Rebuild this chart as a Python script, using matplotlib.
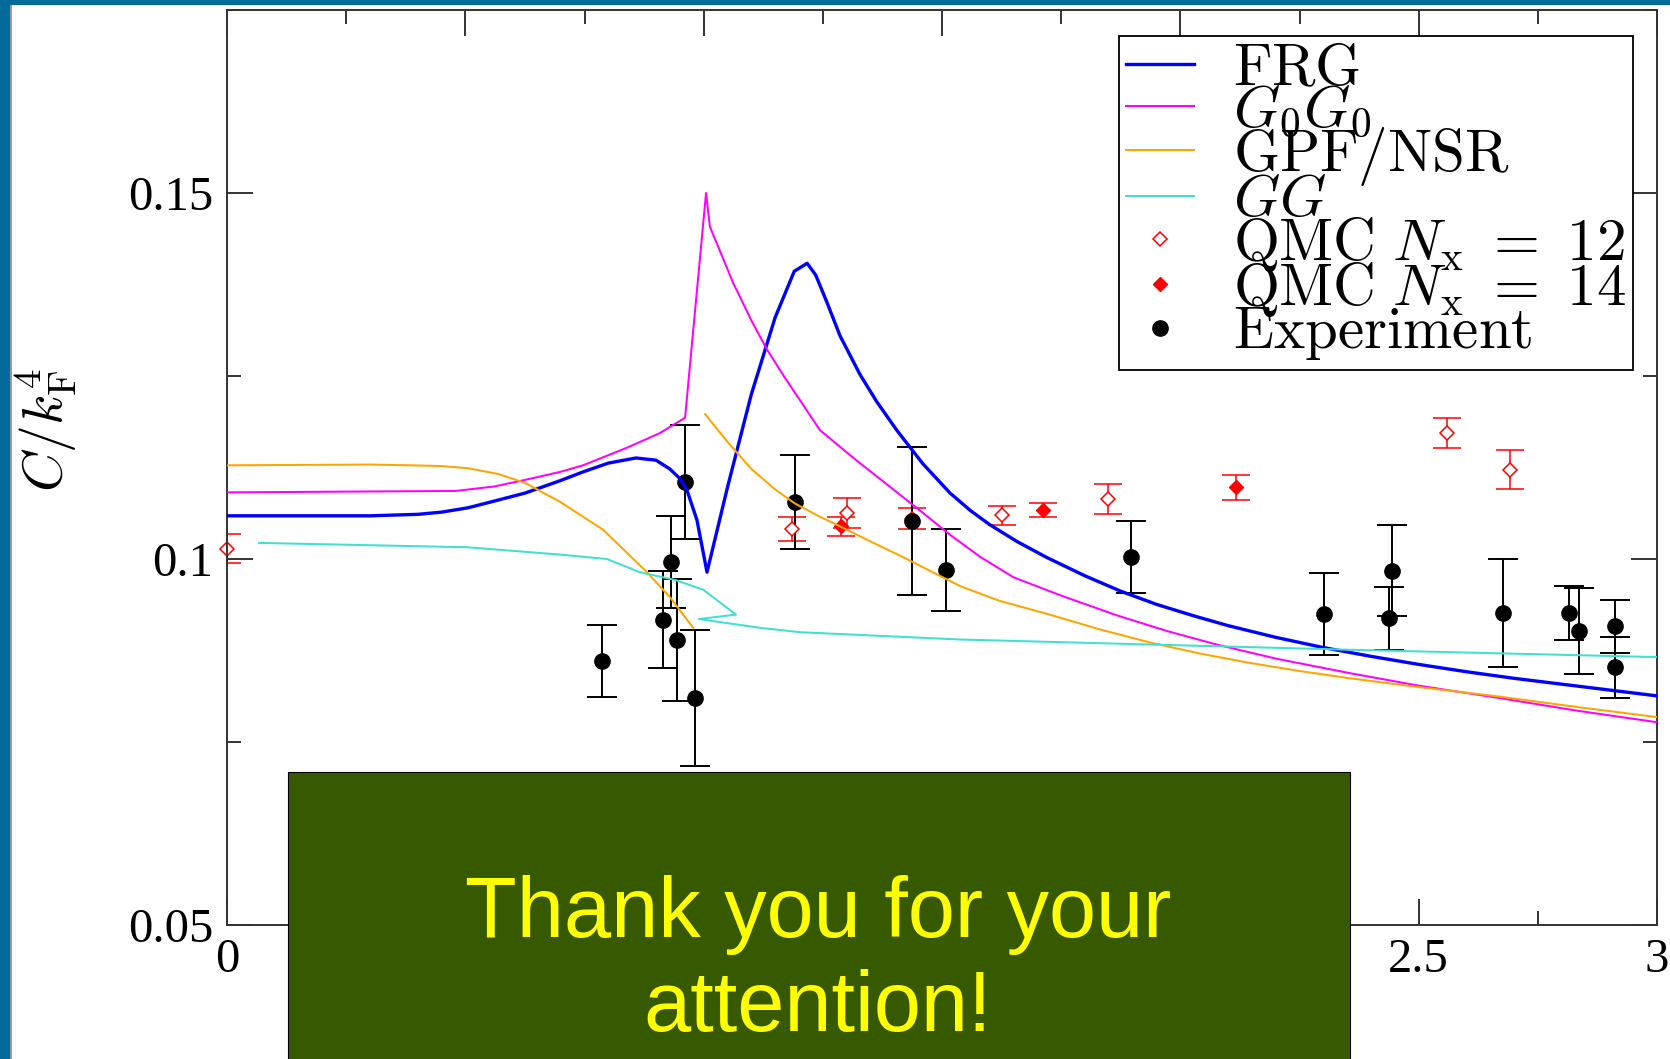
import numpy as np
import matplotlib
matplotlib.use("Agg")
import matplotlib.pyplot as plt
from matplotlib.patches import Rectangle
from matplotlib.ticker import MultipleLocator, FixedLocator, FixedFormatter

plt.rcParams["mathtext.fontset"] = "cm"

# ---------------- data ----------------
# Theory curves: contact C / k_F^4 versus 1/(k_F a)
frg_x = [0.0, 0.30, 0.40, 0.45, 0.506, 0.56, 0.625, 0.699, 0.747, 0.80, 0.858, 0.90, 0.929, 0.95,
         0.965, 0.986, 1.007, 1.05, 1.10, 1.15, 1.19, 1.217, 1.235, 1.259, 1.286, 1.328, 1.363,
         1.405, 1.46, 1.517, 1.56, 1.60, 1.657, 1.72, 1.80, 1.875, 1.95, 2.03, 2.10, 2.20, 2.30,
         2.40, 2.50, 2.60, 2.70, 2.80, 2.90, 3.0]
frg_y = [0.1059, 0.1059, 0.1061, 0.1064, 0.1070, 0.1079, 0.1090, 0.1107, 0.1119, 0.1131, 0.1138, 0.1135, 0.1123, 0.1110,
         0.1094, 0.1053, 0.0982, 0.1098, 0.1225, 0.1330, 0.1393, 0.1404, 0.1388, 0.1350, 0.1305, 0.1252, 0.1215,
         0.1176, 0.1130, 0.1090, 0.1066, 0.1047, 0.1024, 0.1002, 0.0977, 0.0956, 0.0938, 0.0922, 0.0909, 0.0893, 0.0879,
         0.0867, 0.0856, 0.0846, 0.0837, 0.0829, 0.0821, 0.0813]

g0g0_x = [0.0, 0.48, 0.56, 0.625, 0.699, 0.747, 0.839, 0.908, 0.961, 1.005, 1.013, 1.062, 1.10, 1.133,
          1.17, 1.202, 1.244, 1.32, 1.398, 1.46, 1.517, 1.58, 1.65, 1.75, 1.867, 1.97, 2.077, 2.20,
          2.356, 2.50, 2.670, 2.83, 3.0]
g0g0_y = [0.1091, 0.1093, 0.1099, 0.1108, 0.1119, 0.1128, 0.1152, 0.1172, 0.1193, 0.1500, 0.1454, 0.1377, 0.1326, 0.1286,
          0.1248, 0.1217, 0.1176, 0.1135, 0.1095, 0.1063, 0.1033, 0.1003, 0.0975, 0.0950, 0.0923, 0.0902, 0.0883, 0.0864,
          0.0844, 0.0827, 0.0810, 0.0793, 0.0777]

# GPF/NSR has a jump near 1/(k_F a) ~ 1 (NaN splits the two branches)
gpf_x = [0.0, 0.30, 0.384, 0.45, 0.506, 0.57, 0.625, 0.699, 0.789, 0.881, 0.929, 0.978, np.nan,
         1.003, 1.05, 1.10, 1.15, 1.191, 1.24, 1.288, 1.35, 1.42, 1.538, 1.62, 1.726, 1.83, 1.936,
         2.04, 2.146, 2.25, 2.356, 2.50, 2.670, 2.83, 3.0]
gpf_y = [0.1128, 0.1129, 0.1128, 0.1127, 0.1124, 0.1116, 0.1104, 0.1078, 0.1040, 0.0982, 0.0948, 0.0906, np.nan,
         0.1198, 0.1160, 0.1123, 0.1095, 0.1076, 0.1059, 0.1044, 0.1024, 0.1002, 0.0963, 0.0943, 0.0924, 0.0904, 0.0886,
         0.0871, 0.0858, 0.0847, 0.0837, 0.0825, 0.0812, 0.0798, 0.0784]

gg_x = [0.067, 0.506, 0.699, 0.797, 0.866, 0.942, 0.999, 1.068, 0.990, 1.118, 1.202, 1.538, 2.356, 3.0]
gg_y = [0.1022, 0.1016, 0.1006, 0.1000, 0.0982, 0.0971, 0.0958, 0.0924, 0.0918, 0.0906, 0.0900, 0.0890, 0.0876, 0.0866]

# QMC results
qmc12_x = [0.0, 1.185, 1.300, 1.437, 1.626, 1.848, 2.559, 2.691]
qmc12_y = [0.1014, 0.1041, 0.1063, 0.1055, 0.1060, 0.1082, 0.1172, 0.1122]
qmc12_err = [0.0020, 0.0017, 0.0020, 0.0014, 0.0013, 0.0020, 0.0020, 0.0027]

qmc14_x = [1.288, 1.712, 2.117]
qmc14_y = [0.1045, 0.1067, 0.1098]
qmc14_err = [0.0013, 0.0010, 0.0017]

# Experimental data
exp_x = [0.787, 0.915, 0.931, 0.944, 0.961, 0.982, 1.191, 1.437, 1.508, 1.896,
         2.301, 2.438, 2.444, 2.677, 2.815, 2.836, 2.912, 2.912]
exp_y = [0.0861, 0.0917, 0.0996, 0.0889, 0.1105, 0.0810, 0.1078, 0.1052, 0.0985, 0.1003,
         0.0925, 0.0919, 0.0984, 0.0926, 0.0926, 0.0902, 0.0908, 0.0852]
exp_err = [0.0049, 0.0066, 0.0063, 0.0083, 0.0078, 0.0093, 0.0064, 0.0101, 0.0056, 0.0049,
           0.0056, 0.0043, 0.0062, 0.0074, 0.0037, 0.0059, 0.0036, 0.0042]

x_ticks = [0, 0.5, 1, 1.5, 2, 2.5, 3]
x_tick_labels = ["0", "0.5", "1", "1.5", "2", "2.5", "3"]
y_ticks = [0.05, 0.1, 0.15]
y_tick_labels = ["0.05", "0.1", "0.15"]

labels = [r"$\mathrm{FRG}$", r"$G_0G_0$", r"$\mathrm{GPF/NSR}$", r"$GG$",
          r"$\mathrm{QMC}\ N_\mathrm{x}\ =\ 12$", r"$\mathrm{QMC}\ N_\mathrm{x}\ =\ 14$",
          r"$\mathrm{Experiment}$"]

slide_text = "Thank you for your\nattention!"

# ---------------- figure ----------------
W, H = 1670, 1059
fig = plt.figure(figsize=(W / 100, H / 100), dpi=100)
fig.patch.set_facecolor("white")

# slide frame: blue bars on left and top
fig.add_artist(Rectangle((0, 0), 10 / W, 1, transform=fig.transFigure,
                         facecolor="#046a99", edgecolor="none", zorder=0))
fig.add_artist(Rectangle((10 / W, 0), 2 / W, 1, transform=fig.transFigure,
                         facecolor="#9a9a9a", edgecolor="none", zorder=0))
fig.add_artist(Rectangle((0, 1 - 5 / H), 1, 5 / H, transform=fig.transFigure,
                         facecolor="#046a99", edgecolor="none", zorder=0))

ax_l, ax_r, ax_t, ax_b = 227, 1657, 10, 925
ax = fig.add_axes([ax_l / W, 1 - ax_b / H, (ax_r - ax_l) / W, (ax_b - ax_t) / H])

lw_thin = 1.45
ax.plot(frg_x, frg_y, color="#0000ff", lw=2.4, label=labels[0], zorder=4)
ax.plot(g0g0_x, g0g0_y, color="#ff00ff", lw=lw_thin, label=labels[1], zorder=4)
ax.plot(gpf_x, gpf_y, color="#ffa500", lw=lw_thin, label=labels[2], zorder=4)
ax.plot(gg_x, gg_y, color="#40e0d0", lw=lw_thin, label=labels[3], zorder=4)

ax.errorbar(qmc12_x, qmc12_y, yerr=qmc12_err, fmt="none", ecolor="#ff0000",
            elinewidth=1.1, capsize=10, capthick=1.1, zorder=2)
ax.plot(qmc12_x, qmc12_y, ls="none", marker="D", ms=7.5, mfc="white", mec="#ff0000",
        mew=1.1, label=labels[4], zorder=2.5, clip_on=False)

ax.errorbar(qmc14_x, qmc14_y, yerr=qmc14_err, fmt="none", ecolor="#ff0000",
            elinewidth=1.1, capsize=10, capthick=1.1, zorder=2)
ax.plot(qmc14_x, qmc14_y, ls="none", marker="D", ms=7.5, mfc="#ff0000", mec="#ff0000",
        label=labels[5], zorder=2.5)

ax.errorbar(exp_x, exp_y, yerr=exp_err, fmt="none", ecolor="black",
            elinewidth=1.4, capsize=10.8, capthick=1.4, zorder=2)
ax.plot(exp_x, exp_y, ls="none", marker="o", ms=11, mfc="black", mec="black",
        label=labels[6], zorder=3)

ax.set_xlim(0, 3)
ax.set_ylim(0.05, 0.175)

ax.xaxis.set_major_locator(FixedLocator(x_ticks))
ax.xaxis.set_major_formatter(FixedFormatter(x_tick_labels))
ax.xaxis.set_minor_locator(MultipleLocator(0.25))
ax.yaxis.set_major_locator(FixedLocator(y_ticks))
ax.yaxis.set_major_formatter(FixedFormatter(y_tick_labels))
ax.yaxis.set_minor_locator(MultipleLocator(0.025))
for lab in ax.get_xticklabels() + ax.get_yticklabels():
    lab.set_fontfamily("Liberation Serif")
    lab.set_fontsize(35)

ax.tick_params(which="both", direction="in", top=True, right=True, width=1.4, color="#333333")
ax.tick_params(which="major", length=19)
ax.tick_params(which="minor", length=10)
ax.tick_params(axis="y", which="major", pad=10)
ax.tick_params(axis="x", which="major", pad=9)
for sp in ax.spines.values():
    sp.set_linewidth(1.4)
    sp.set_color("#333333")

ax.set_ylabel(r"$C/k_\mathrm{F}^4$", fontsize=40)
ax.yaxis.set_label_coords((80 - ax_l) / (ax_r - ax_l), (ax_b - 430) / (ax_b - ax_t))

leg = ax.legend(loc="upper right",
                bbox_to_anchor=((1633 - ax_l) / (ax_r - ax_l), (ax_b - 36) / (ax_b - ax_t)),
                borderaxespad=0, prop={"family": "cmr10", "size": 42.5},
                labelspacing=-0.23, handlelength=1.15, handletextpad=0.65,
                borderpad=0.12, fancybox=False, framealpha=1, edgecolor="black")
leg.get_frame().set_linewidth(1.3)

# closing box over the lower part of the slide
box_l, box_r, box_t = 288, 1350, 772
fig.add_artist(Rectangle((box_l / W, -0.01), (box_r - box_l) / W, (H - box_t) / H + 0.01,
                         transform=fig.transFigure, facecolor="#375a00",
                         edgecolor="black", lw=0.8, zorder=10))
# baseline of the last line sits at 1031 px from the top
fig.text(818 / W, 1 - 1031 / H, slide_text, color="#ffff00", fontsize=61,
         family="Liberation Sans", ha="center", va="baseline", linespacing=1.23, zorder=11)

fig.savefig("out.png", dpi=100)
